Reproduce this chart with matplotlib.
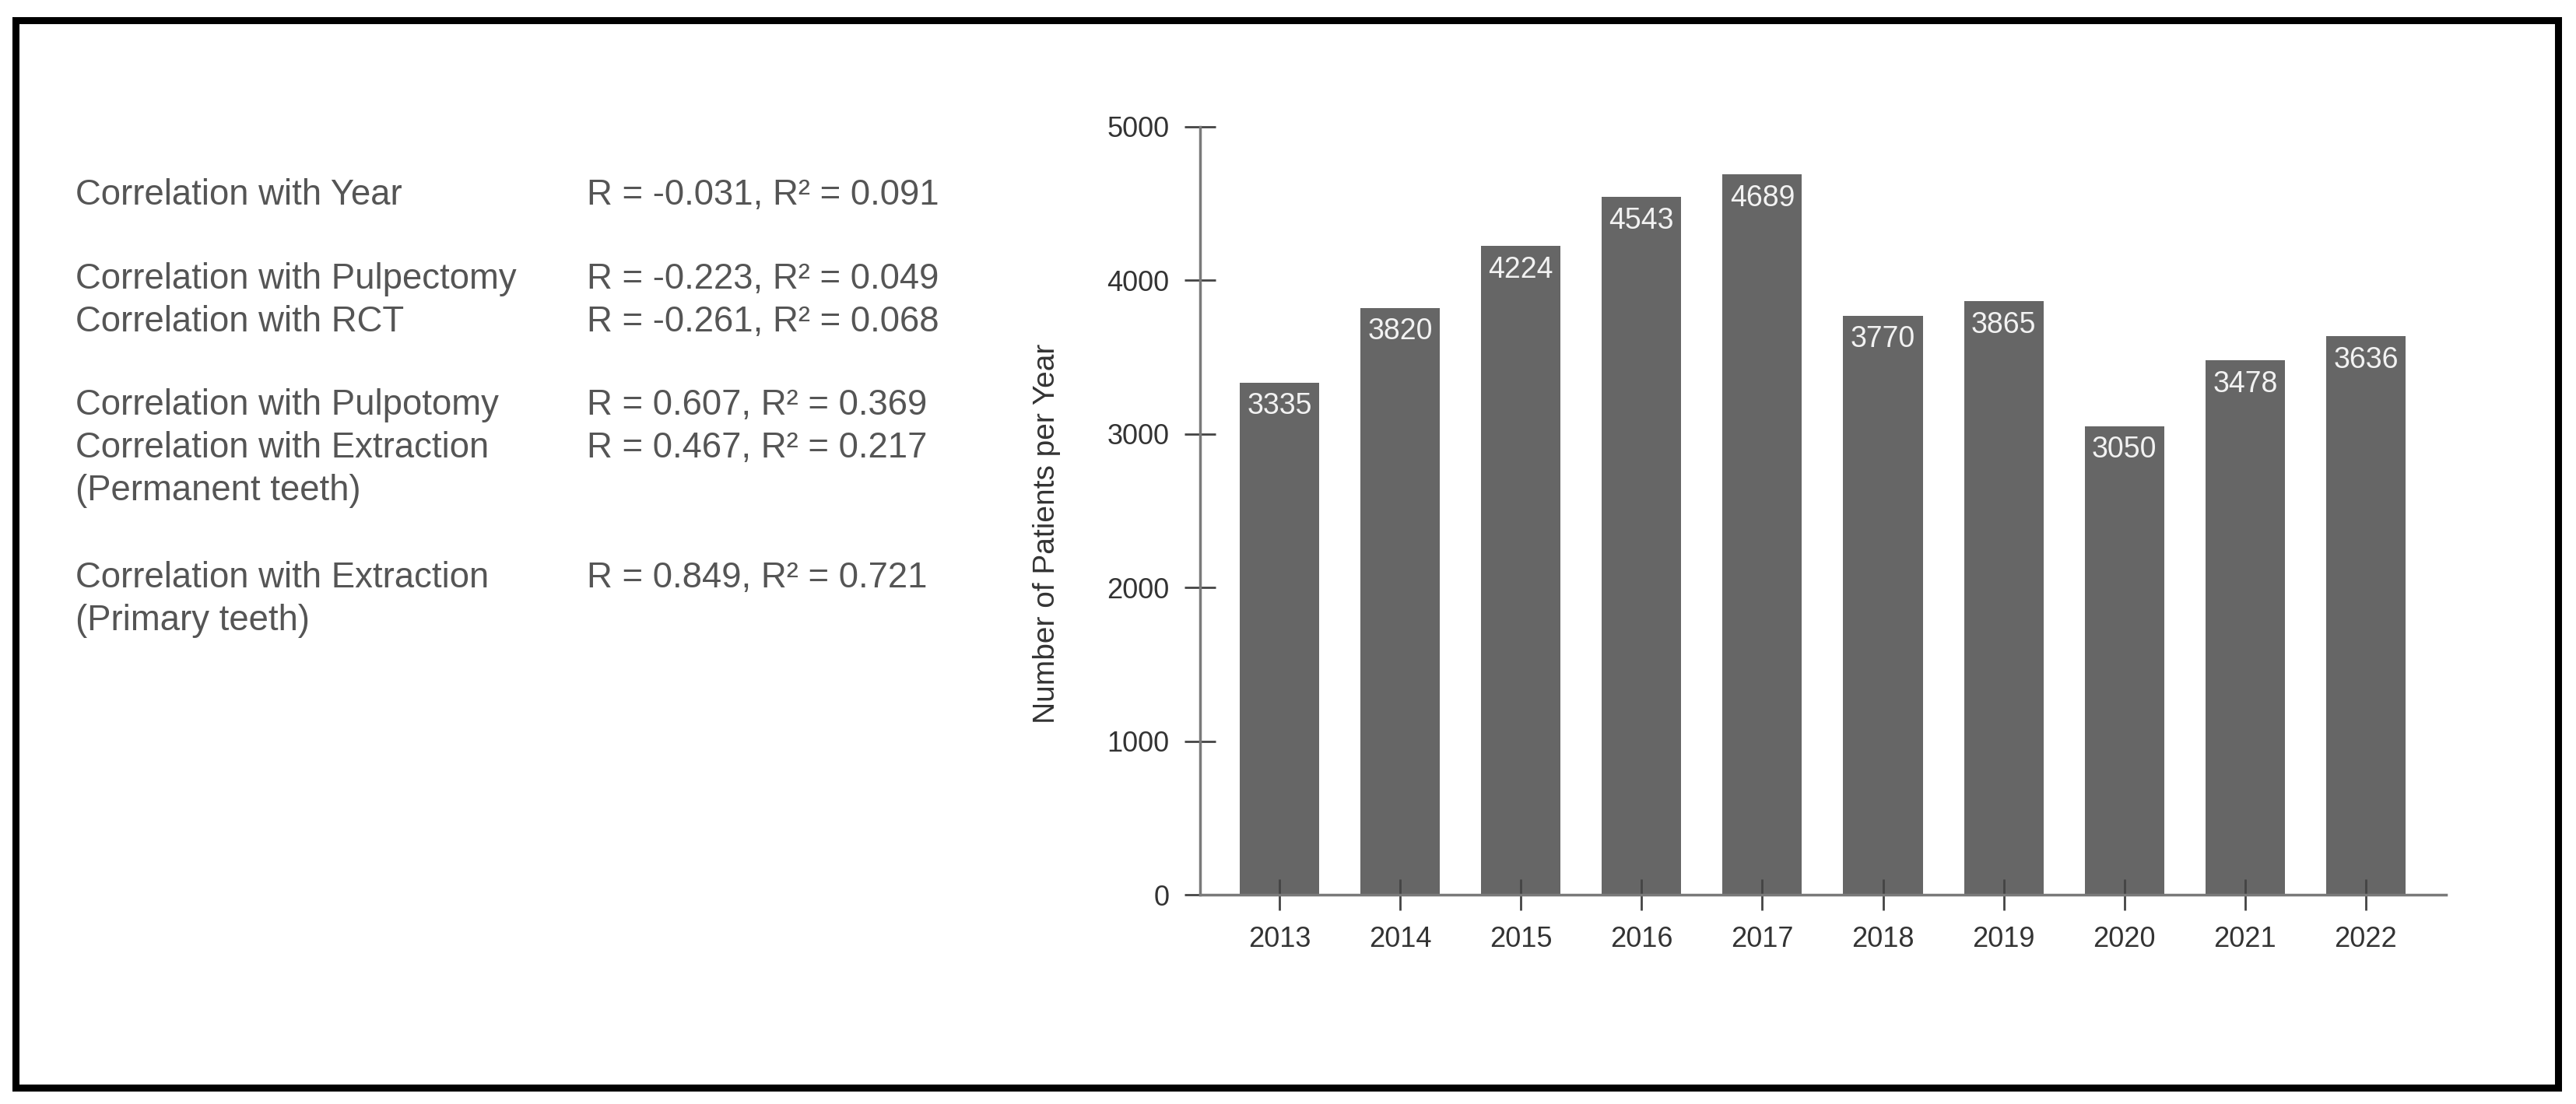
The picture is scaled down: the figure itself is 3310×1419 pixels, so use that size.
import matplotlib
matplotlib.use("Agg")
import matplotlib.pyplot as plt
from matplotlib.patches import Rectangle

plt.rcParams['font.family'] = ['Liberation Sans', 'DejaVu Sans']

years = ['2013', '2014', '2015', '2016', '2017', '2018', '2019', '2020', '2021', '2022']
patients = [3335, 3820, 4224, 4543, 4689, 3770, 3865, 3050, 3478, 3636]

corr_names = ['Correlation with Year',
              'Correlation with Pulpectomy',
              'Correlation with RCT',
              'Correlation with Pulpotomy',
              'Correlation with Extraction',
              '(Permanent teeth)',
              'Correlation with Extraction',
              '(Primary teeth)']
corr_values = ['R = -0.031, R² = 0.091',
               'R = -0.223, R² = 0.049',
               'R = -0.261, R² = 0.068',
               'R = 0.607, R² = 0.369',
               'R = 0.467, R² = 0.217',
               '',
               'R = 0.849, R² = 0.721',
               '']
# row centres in pixels from the top of the picture
corr_rows_px = [251, 359, 414, 521, 576, 631, 743, 798]

W, H = 3310, 1419
fig = plt.figure(figsize=(W / 100, H / 100), dpi=100)

# black frame round everything
fig.patches.append(Rectangle((20 / W, 1 - 1397.5 / H), 3266.5 / W, 1372 / H,
                             transform=fig.transFigure, fill=False,
                             edgecolor='black', linewidth=6.5))

# correlation table on the left
text_col = '#555555'
for name, val, ypx in zip(corr_names, corr_values, corr_rows_px):
    fig.text(97 / W, 1 - ypx / H, name, fontsize=32.8, color=text_col, va='center', ha='left')
    if val:
        fig.text(754 / W, 1 - ypx / H, val, fontsize=32.8, color=text_col, va='center', ha='left')

ax = fig.add_axes([1542 / W, 1 - 1150 / H, (3143 - 1542) / W, (1150 - 163) / H])
x = list(range(len(years)))
bars = ax.bar(x, patients, width=0.658, color='#666666')

for i, v in enumerate(patients):
    ax.annotate(str(v), (i, v), xytext=(0, -9), textcoords='offset points',
                ha='center', va='top', fontsize=27, color='#f2f2f2')

ax.set_xlim(-0.658, 9.665)
ax.set_ylim(0, 5000)
ax.set_yticks([0, 1000, 2000, 3000, 4000, 5000])
ax.set_xticks(x)
ax.set_xticklabels(years)

for s in ['top', 'right']:
    ax.spines[s].set_visible(False)
for s in ['left', 'bottom']:
    ax.spines[s].set_color('#7a7a7a')
    ax.spines[s].set_linewidth(2.5)

ax.tick_params(axis='both', direction='inout', length=29, width=2, color='#444444',
               labelsize=26, labelcolor='#333333', pad=14)

ax.set_ylabel('Number of Patients per Year', fontsize=28, color='#333333')
ax.yaxis.set_label_coords(-0.112, 0.47)

fig.savefig('out.png', dpi=100)
